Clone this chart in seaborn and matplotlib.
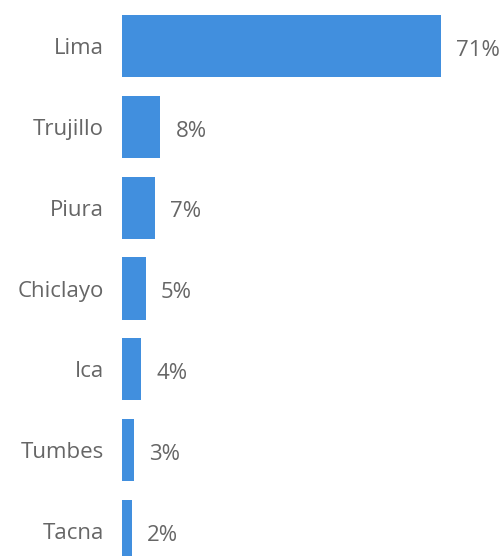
import matplotlib
matplotlib.use("Agg")
import matplotlib.pyplot as plt
import seaborn as sns
import pandas as pd

# datos del gráfico
ciudades = ["Lima", "Trujillo", "Piura", "Chiclayo", "Ica", "Tumbes", "Tacna"]
valores = [71.0, 8.5, 7.3, 5.3, 4.2, 2.7, 2.2]
etiquetas = ["71%", "8%", "7%", "5%", "4%", "3%", "2%"]

df = pd.DataFrame({"ciudad": ciudades, "valor": valores})

sns.set_theme(style="white")
plt.rcParams["font.family"] = ["Open Sans", "DejaVu Sans"]

gris = "#666666"
azul = "#418FDE"

fig = plt.figure(figsize=(5.01, 5.56), dpi=100)
ax = fig.add_axes([122 / 501, 0, (441 - 122) / 501, (556 - 15) / 556])

sns.barplot(data=df, x="valor", y="ciudad", orient="h", color=azul,
            width=0.77, saturation=1, linewidth=0, ax=ax)

ax.set_xlim(0, max(valores))
ax.set_ylim(6.31, -0.385)

# etiquetas de valores, un poco por debajo del centro de la barra
for barra, txt in zip(ax.patches, etiquetas):
    ax.annotate(txt, (barra.get_width(), barra.get_y() + barra.get_height() / 2),
                xytext=(11, -3), textcoords="offset points", ha="left",
                va="center", fontsize=16, color=gris, annotation_clip=False)

ax.set_xlabel("")
ax.set_ylabel("")
ax.set_xticks([])
ax.tick_params(axis="y", length=0, pad=13, labelsize=16, labelcolor=gris)
sns.despine(ax=ax, left=True, bottom=True)

fig.savefig("out.png", dpi=100)
